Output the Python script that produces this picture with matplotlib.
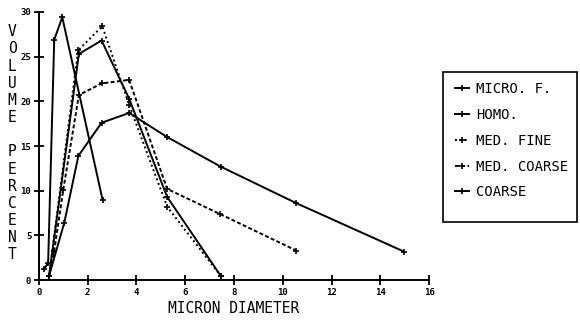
import numpy as np
import matplotlib
matplotlib.use("Agg")
import matplotlib.pyplot as plt
from matplotlib.patches import Rectangle

# values
micro_x = [0.2, 0.38, 0.63, 0.96, 2.61]
micro_y = [1.2, 1.9, 26.9, 29.4, 9.0]

homo_x = [0.42, 1.64, 2.57, 3.7, 5.26, 7.45]
homo_y = [0.5, 25.3, 26.8, 20.3, 9.3, 0.5]

medfine_x = [0.42, 1.61, 2.6, 3.7, 5.26, 7.45]
medfine_y = [0.5, 25.7, 28.4, 19.6, 8.2, 0.5]

medcoarse_x = [0.42, 0.63, 1.0, 1.64, 2.57, 3.7, 5.26, 7.42, 10.56]
medcoarse_y = [0.5, 3.3, 10.1, 20.7, 22.0, 22.4, 10.2, 7.4, 3.3]

coarse_x = [0.42, 1.04, 1.62, 2.57, 3.7, 5.26, 7.45, 10.56, 14.96]
coarse_y = [0.5, 6.4, 13.9, 17.6, 18.7, 16.0, 12.7, 8.6, 3.2]

labels = ["MICRO. F.", "HOMO.", "MED. FINE", "MED. COARSE", "COARSE"]
x_ticks = [0, 2, 4, 6, 8, 10, 12, 14, 16]
y_ticks = [0, 5, 10, 15, 20, 25, 30]

plt.rcParams['font.family'] = ['DejaVu Sans Mono']

fig = plt.figure(figsize=(5.8, 3.22), dpi=100)
ax = fig.add_axes([0.067, 0.130, 0.673, 0.833])

kw = dict(color='black', lw=1.4, marker='+', ms=4, mew=1.2)
ax.plot(micro_x, micro_y, ls='-', label=labels[0], **kw)
ax.plot(homo_x, homo_y, ls='-', label=labels[1], **kw)
ax.plot(medfine_x, medfine_y, ls=(0, (1, 1.5)), label=labels[2], **kw)
ax.plot(medcoarse_x, medcoarse_y, ls=(0, (2, 1.2)), label=labels[3], **kw)
ax.plot(coarse_x, coarse_y, ls='-', label=labels[4], **kw)

ax.set_xlim(0, 16)
ax.set_ylim(0, 30)
ax.set_xticks(x_ticks)
ax.set_yticks(y_ticks)
ax.set_xticklabels([str(t) for t in x_ticks], fontsize=6.5, fontweight='bold')
ax.set_yticklabels([str(t) for t in y_ticks], fontsize=6.5, fontweight='bold')
ax.tick_params(direction='inout', length=7, width=1.3, pad=2)
for s in ['top', 'right']:
    ax.spines[s].set_visible(False)
for s in ['left', 'bottom']:
    ax.spines[s].set_linewidth(1.4)
ax.patch.set_visible(False)

ax.set_xlabel("MICRON DIAMETER", fontsize=10.5, labelpad=3)

# stacked vertical y label
fig.text(0.021, 0.555, "\n".join("VOLUME") + "\n\n" + "\n".join("PERCENT"),
         fontsize=10.5, ha='center', va='center', linespacing=1.18)

# legend without its own frame; the box is drawn separately
leg = fig.legend(loc='upper left', bbox_to_anchor=(0.785, 0.745),
                 frameon=False, fontsize=10, handlelength=1.0,
                 handletextpad=0.5, labelspacing=0.85, borderpad=0,
                 borderaxespad=0)
fig.patches.append(Rectangle((0.764, 0.311), 0.231, 0.466,
                             transform=fig.transFigure, fill=False,
                             edgecolor='black', lw=1.2))

fig.savefig("out.png", dpi=100)
